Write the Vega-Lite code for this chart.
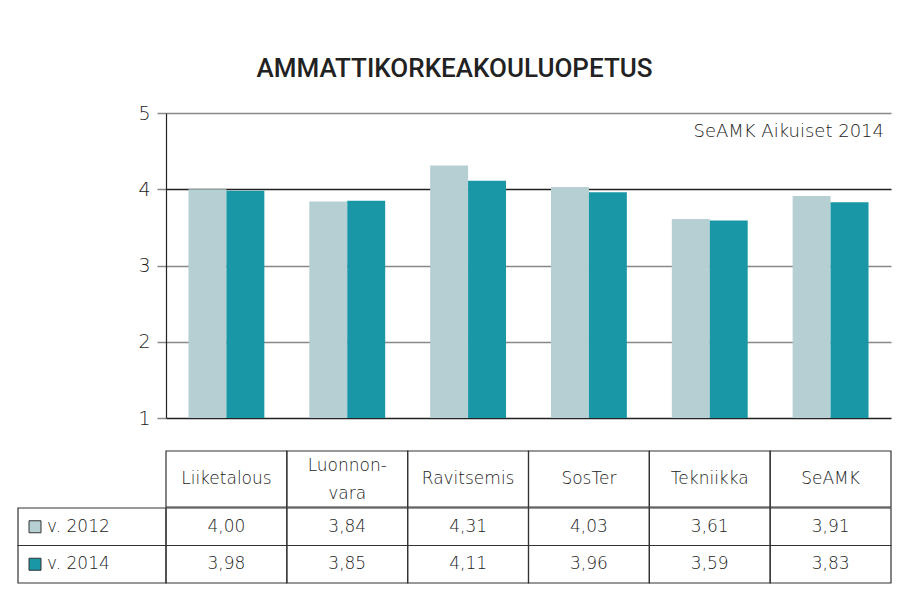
{
  "$schema": "https://vega.github.io/schema/vega-lite/v6.json",
  "background": "white",
  "padding": {"left": 17, "top": 56, "right": 6, "bottom": 10},
  "title": {"text": "AMMATTIKORKEAKOULUOPETUS", "anchor": "middle", "fontSize": 26, "font": "Roboto", "fontWeight": 500, "color": "#222", "offset": 22},
  "config": {
    "view": {"stroke": null},
    "font": "DejaVu Sans",
    "locale": {"number": {"decimal": ",", "thousands": "\u00a0", "grouping": [3], "currency": ["", "\u00a0€"]}}
  },
  "datasets": {
    "arvot": [
      {"ala": "Liiketalous", "vuosi": "v. 2012", "arvo": 4.00},
      {"ala": "Liiketalous", "vuosi": "v. 2014", "arvo": 3.98},
      {"ala": "Luonnon-\nvara", "vuosi": "v. 2012", "arvo": 3.84},
      {"ala": "Luonnon-\nvara", "vuosi": "v. 2014", "arvo": 3.85},
      {"ala": "Ravitsemis", "vuosi": "v. 2012", "arvo": 4.31},
      {"ala": "Ravitsemis", "vuosi": "v. 2014", "arvo": 4.11},
      {"ala": "SosTer", "vuosi": "v. 2012", "arvo": 4.03},
      {"ala": "SosTer", "vuosi": "v. 2014", "arvo": 3.96},
      {"ala": "Tekniikka", "vuosi": "v. 2012", "arvo": 3.61},
      {"ala": "Tekniikka", "vuosi": "v. 2014", "arvo": 3.59},
      {"ala": "SeAMK", "vuosi": "v. 2012", "arvo": 3.91},
      {"ala": "SeAMK", "vuosi": "v. 2014", "arvo": 3.83}
    ]
  },
  "spacing": 22,
  "resolve": {"scale": {"x": "independent", "y": "independent"}},
  "vconcat": [
    {
      "bounds": "flush",
      "spacing": 0,
      "resolve": {"scale": {"x": "independent", "y": "independent"}},
      "hconcat": [
        {
          "width": 148, "height": 305,
          "data": {"name": "arvot"},
          "mark": {"type": "point", "opacity": 0},
          "encoding": {}
        },
        {
          "width": 725, "height": 305,
          "data": {"name": "arvot"},
          "title": {"text": "SeAMK Aikuiset 2014", "anchor": "end", "frame": "group", "offset": -37, "dx": -7, "fontSize": 18, "fontWeight": 200, "color": "#222", "font": "DejaVu Sans"},
          "mark": {"type": "bar"},
          "encoding": {
            "x": {"field": "ala", "type": "nominal", "sort": null, "scale": {"paddingInner": 0.372, "paddingOuter": 0.186}, "axis": null},
            "xOffset": {"field": "vuosi", "type": "nominal", "scale": {"paddingInner": 0, "paddingOuter": 0}},
            "y": {
              "field": "arvo", "type": "quantitative",
              "scale": {"domain": [1, 5], "nice": false, "zero": false},
              "axis": {
                "title": null, "values": [1, 2, 3, 4, 5], "format": "d",
                "labelFontSize": 19, "labelFontWeight": 200, "labelColor": "#222", "labelPadding": 7,
                "tickColor": "#888", "tickSize": 9, "tickWidth": 1.5,
                "domainColor": "#222", "domainWidth": 1.2,
                "grid": true, "gridWidth": 1.3,
                "gridColor": {"condition": {"test": "datum.value === 4 || datum.value === 1", "value": "#222"}, "value": "#888"}
              }
            },
            "y2": {"datum": 1},
            "color": {"field": "vuosi", "type": "nominal", "scale": {"domain": ["v. 2012", "v. 2014"], "range": ["#B5CFD3", "#1A97A6"]}, "legend": null}
          }
        }
      ]
    },
    {
      "spacing": -3,
      "resolve": {"scale": {"x": "independent", "y": "independent"}},
      "vconcat": [
        {
          "bounds": "flush",
          "spacing": 0,
          "resolve": {"scale": {"x": "independent", "y": "independent"}},
          "hconcat": [
            {
              "width": 148, "height": 56,
              "data": {"name": "arvot"},
              "mark": {"type": "point", "opacity": 0},
              "encoding": {}
            },
            {
              "width": 725, "height": 56,
              "data": {"name": "arvot"},
              "transform": [{"filter": "datum.vuosi === 'v. 2012'"}],
              "encoding": {
                "x": {"field": "ala", "type": "nominal", "sort": null, "scale": {"paddingInner": 0, "paddingOuter": 0}, "axis": null}
              },
              "layer": [
                {"mark": {"type": "rect", "filled": false, "stroke": "#333", "strokeWidth": 1.2}},
                {"transform": [{"filter": "indexof(datum.ala, '-') < 0"}],
                 "mark": {"type": "text", "fontSize": 17, "fontWeight": 200, "color": "#222"}, "encoding": {"text": {"field": "ala"}}},
                {"transform": [{"filter": "indexof(datum.ala, '-') >= 0"}],
                 "mark": {"type": "text", "fontSize": 17, "fontWeight": 200, "color": "#222", "lineBreak": "\n", "lineHeight": 28, "dy": -13}, "encoding": {"text": {"field": "ala"}}}
              ]
            }
          ]
        },
        {
          "bounds": "flush",
          "spacing": 0,
          "resolve": {"scale": {"x": "independent", "y": "independent"}},
          "hconcat": [
            {
              "width": 148, "height": 75,
              "data": {"name": "arvot"},
              "transform": [{"filter": "datum.ala === 'SeAMK'"}],
              "encoding": {
                "y": {"field": "vuosi", "type": "nominal", "sort": null, "scale": {"paddingInner": 0, "paddingOuter": 0}, "axis": null}
              },
              "layer": [
                {"mark": {"type": "rect", "filled": false, "stroke": "#333", "strokeWidth": 1.2}},
                {"mark": {"type": "point", "shape": "square", "size": 144, "filled": true, "stroke": "#333", "strokeWidth": 1, "opacity": 1, "xOffset": -57},
                 "encoding": {"color": {"field": "vuosi", "type": "nominal", "scale": {"domain": ["v. 2012", "v. 2014"], "range": ["#B5CFD3", "#1A97A6"]}, "legend": null}}},
                {"mark": {"type": "text", "fontSize": 17, "fontWeight": 200, "color": "#222", "align": "left", "dx": -45}, "encoding": {"text": {"field": "vuosi"}}}
              ]
            },
            {
              "width": 725, "height": 75,
              "data": {"name": "arvot"},
              "encoding": {
                "x": {"field": "ala", "type": "nominal", "sort": null, "scale": {"paddingInner": 0, "paddingOuter": 0}, "axis": null},
                "y": {"field": "vuosi", "type": "nominal", "sort": null, "scale": {"paddingInner": 0, "paddingOuter": 0}, "axis": null}
              },
              "layer": [
                {"mark": {"type": "rect", "filled": false, "stroke": "#333", "strokeWidth": 1.2}},
                {"mark": {"type": "text", "fontSize": 17, "fontWeight": 200, "color": "#222"}, "encoding": {"text": {"field": "arvo", "type": "quantitative", "format": ".2f"}}}
              ]
            }
          ]
        }
      ]
    }
  ]
}
